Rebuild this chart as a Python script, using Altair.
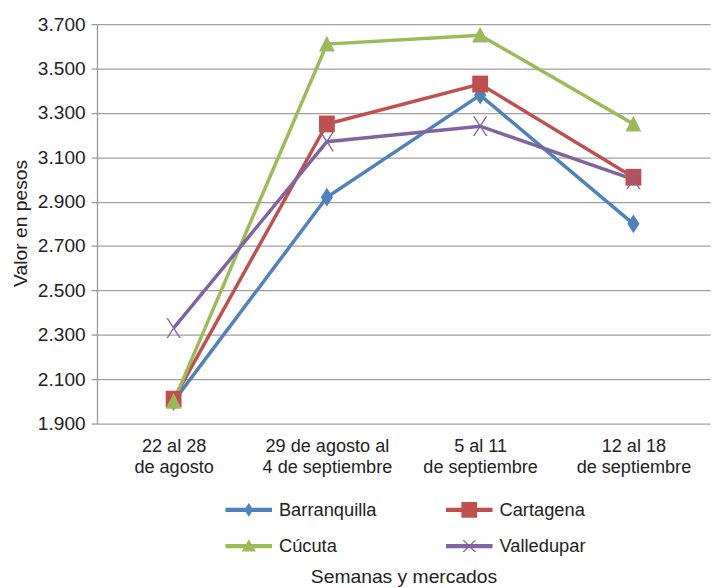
import altair as alt
import pandas as pd

semanas = ["22 al 28\nde agosto", "29 de agosto al\n4 de septiembre",
           "5 al 11\nde septiembre", "12 al 18\nde septiembre"]
mercados = ["Barranquilla", "Cartagena", "Cúcuta", "Valledupar"]
barranquilla = [2000, 2920, 3380, 2800]
cartagena = [2010, 3250, 3430, 3010]
cucuta = [2000, 3610, 3650, 3250]
valledupar = [2330, 3170, 3240, 3000]
colores = ["#4F81BD", "#C0504D", "#9BBB59", "#8064A2"]
y_ticks = [1900, 2100, 2300, 2500, 2700, 2900, 3100, 3300, 3500, 3700]

rows = []
for m, vals in zip(mercados, [barranquilla, cartagena, cucuta, valledupar]):
    for s, v in zip(semanas, vals):
        rows.append({"semana": s, "mercado": m, "valor": v})
df = pd.DataFrame(rows)

# marker shapes on the chart
chart_shapes = [
    "M0,-0.95L0.62,0L0,0.95L-0.62,0Z",
    "M-0.8,-0.85L0.8,-0.85L0.8,0.85L-0.8,0.85Z",
    "M0,-0.85L0.8,0.75L-0.8,0.75Z",
    "M-0.73,-1L-0.57,-1L0.73,1L0.57,1ZM0.57,-1L0.73,-1L-0.57,1L-0.73,1Z",
]
# legend symbols: line + marker
bar = "M-1.57,-0.14L1.57,-0.14L1.57,0.14L-1.57,0.14Z"
legend_shapes = [
    bar + "M0,-0.47L0.3,0L0,0.47L-0.3,0Z",
    bar + "M-0.53,-0.53L0.53,-0.53L0.53,0.53L-0.53,0.53Z",
    bar + "M0,-0.47L0.47,0.35L-0.47,0.35Z",
    bar + "M-0.46,-0.4L-0.34,-0.4L0.46,0.4L0.34,0.4ZM0.34,-0.4L0.46,-0.4L-0.34,0.4L-0.46,0.4Z",
]

FONT = "Liberation Sans"
TXT = "#222222"

x_enc = alt.X("semana:N", sort=semanas,
              scale=alt.Scale(paddingInner=0, paddingOuter=0),
              axis=alt.Axis(title="Semanas y mercados", labelAngle=0,
                            labelExpr="split(datum.label, '\\n')",
                            labelFontSize=18.3, labelLineHeight=21,
                            labelPadding=14, ticks=False, domain=False,
                            titleFontSize=19.5, titleFontWeight="normal",
                            titleY=161, titleBaseline="alphabetic",
                            labelColor=TXT, titleColor=TXT))
y_enc = alt.Y("valor:Q", scale=alt.Scale(domain=[1900, 3700], nice=False, zero=False),
              axis=alt.Axis(title="Valor en pesos", values=y_ticks,
                            labelExpr="replace(format(datum.value, ','), ',', '.')",
                            labelFontSize=19.3, labelPadding=6, tickSize=6,
                            tickColor="#999999", domainColor="#999999",
                            domainWidth=1.3, tickWidth=1.3,
                            gridColor="#A0A0A0", gridWidth=1.3,
                            titleFontSize=19.5, titleFontWeight="normal",
                            titleX=-77, titleY=201, titleAngle=270,
                            titleAlign="center", titleBaseline="middle",
                            labelColor=TXT, titleColor=TXT))

color_scale = alt.Scale(domain=mercados, range=colores)

leg = alt.Legend(title=None, orient="none", direction="horizontal",
                 legendX=138.5, legendY=476,
                 columns=2, columnPadding=69, rowPadding=12, symbolSize=900,
                 labelOffset=15.5, labelFontSize=18.5, labelColor=TXT,
                 symbolStrokeWidth=0, symbolOpacity=1, padding=0)

lines = alt.Chart(df).mark_line(strokeWidth=3.5).encode(
    x=x_enc, y=y_enc,
    color=alt.Color("mercado:N", scale=color_scale, sort=mercados, legend=None),
)

points = alt.Chart(df).mark_point(filled=True, size=400, opacity=1).encode(
    x=x_enc, y=y_enc,
    color=alt.Color("mercado:N", scale=color_scale, sort=mercados, legend=None),
    shape=alt.Shape("mercado:N", scale=alt.Scale(domain=mercados, range=chart_shapes),
                    legend=None),
)

legend_layer = alt.Chart(df).mark_point(filled=True, size=1, opacity=0).encode(
    x=x_enc, y=y_enc,
    color=alt.Color("mercado:N", scale=color_scale, sort=mercados, legend=leg),
    shape=alt.Shape("mercado:N", scale=alt.Scale(domain=mercados, range=legend_shapes),
                    sort=mercados, legend=leg),
)

chart = alt.layer(lines, points, legend_layer).resolve_scale(
    color="independent", shape="independent"
).properties(
    width=620, height=404,
    autosize=alt.AutoSizeParams(type="none"),
    padding={"left": 90, "top": 13, "right": 4, "bottom": 163},
).configure(font=FONT).configure_view(stroke=None)

chart.save("out.html", embed_options={"renderer": "svg", "actions": False})
